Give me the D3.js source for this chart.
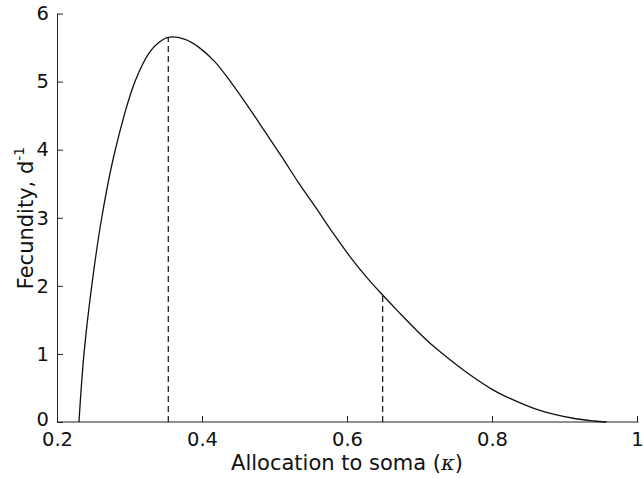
<!DOCTYPE html>
<html>
<head>
<meta charset="utf-8">
<script src="https://cdn.jsdelivr.net/npm/d3@7"></script>
<style>
  html, body { margin: 0; padding: 0; background: #fff; }
  text { font-family: "DejaVu Sans", sans-serif; fill: #111; }
</style>
</head>
<body>
<svg id="chart" width="643" height="479"></svg>
<script>
// Fecundity as a function of allocation to soma
const kappa     = [0.2303, 0.2372, 0.2479, 0.2617, 0.280, 0.3076, 0.3283, 0.340, 0.3535, 0.3766, 0.3949, 0.4179, 0.4410, 0.4639, 0.4869, 0.5099, 0.5328, 0.5582, 0.5811, 0.6041, 0.6272, 0.6492, 0.6731, 0.6961, 0.7190, 0.7421, 0.774, 0.800, 0.820, 0.866, 0.912, 0.940, 0.958];
const fecundity = [0,      1.0,    2.0,    3.0,    3.98,  5.0,    5.44,   5.57,  5.65,   5.62,   5.51,   5.29,   4.975,  4.63,   4.264,  3.897,  3.52,   3.13,   2.77,   2.43,   2.125,  1.865,  1.595,  1.345,  1.115,  0.915,  0.66,  0.48,  0.37,  0.17,  0.055, 0.015, 0];

// Vertical markers: optimum and second reference allocation
const markerKappa = [0.3535, 0.6492];
const markerFec   = [5.65, 1.865];

const xTicks = [0.2, 0.4, 0.6, 0.8, 1];
const xTickLabels = ["0.2", "0.4", "0.6", "0.8", "1"];
const yTicks = [0, 1, 2, 3, 4, 5, 6];

const svg = d3.select("#chart");
const x = d3.scaleLinear().domain([0.2, 1]).range([57, 637]);
const y = d3.scaleLinear().domain([0, 6]).range([422, 13.5]);

const axisColor = "#222";
const tickFont = 19.5;

// Bottom axis, ticks pointing inward
const xAxis = d3.axisBottom(x)
  .tickValues(xTicks)
  .tickFormat((d, i) => xTickLabels[i])
  .tickSizeInner(-6).tickSizeOuter(0).tickPadding(10);
const gx = svg.append("g").attr("transform", `translate(0,${y(0)})`).call(xAxis);
gx.select(".domain").attr("stroke", axisColor).attr("d", `M${x(0.2)},0H${x(1) + 1.5}`);
gx.selectAll(".tick line").attr("stroke", axisColor);
gx.selectAll(".tick text").attr("font-size", tickFont).attr("font-family", "DejaVu Sans").attr("fill", "#111");

// Left axis, ticks pointing inward
const yAxis = d3.axisLeft(y)
  .tickValues(yTicks)
  .tickFormat(d3.format("d"))
  .tickSizeInner(-6).tickSizeOuter(0).tickPadding(8);
const gy = svg.append("g").attr("transform", `translate(${x(0.2)},0)`).call(yAxis);
gy.select(".domain").attr("stroke", axisColor);
gy.selectAll(".tick line").attr("stroke", axisColor);
gy.selectAll(".tick text").attr("font-size", tickFont).attr("font-family", "DejaVu Sans").attr("fill", "#111");
// keep the bottom "0" clear of the "0.2" below it
gy.selectAll(".tick text").filter(d => d === 0).attr("dy", "0.2em");

// Dashed drop lines from the curve to the axis
svg.append("g").selectAll("line")
  .data(markerKappa)
  .join("line")
  .attr("x1", d => x(d)).attr("x2", d => x(d))
  .attr("y1", y(0)).attr("y2", (d, i) => y(markerFec[i]))
  .attr("stroke", "#111").attr("stroke-width", 1.2)
  .attr("stroke-dasharray", "6,4");

// Fecundity curve
const pts = kappa.map((k, i) => [k, fecundity[i]]);
const line = d3.line().x(d => x(d[0])).y(d => y(d[1])).curve(d3.curveCatmullRom.alpha(0.5));
svg.append("path")
  .datum(pts)
  .attr("d", line)
  .attr("fill", "none")
  .attr("stroke", "#111")
  .attr("stroke-width", 1.3);

// Axis titles
const xTitle = svg.append("text")
  .attr("x", 347).attr("y", 470)
  .attr("text-anchor", "middle")
  .attr("font-size", 21);
xTitle.append("tspan").text("Allocation to soma (");
xTitle.append("tspan").attr("font-style", "italic").attr("font-family", "DejaVu Serif").text("κ");
xTitle.append("tspan").text(")");

const yTitle = svg.append("text")
  .attr("transform", "translate(33,218) rotate(-90)")
  .attr("text-anchor", "middle")
  .attr("font-size", 21);
yTitle.append("tspan").text("Fecundity, d");
yTitle.append("tspan").attr("dy", -9).attr("font-size", 14).text("-1");
</script>
</body>
</html>
